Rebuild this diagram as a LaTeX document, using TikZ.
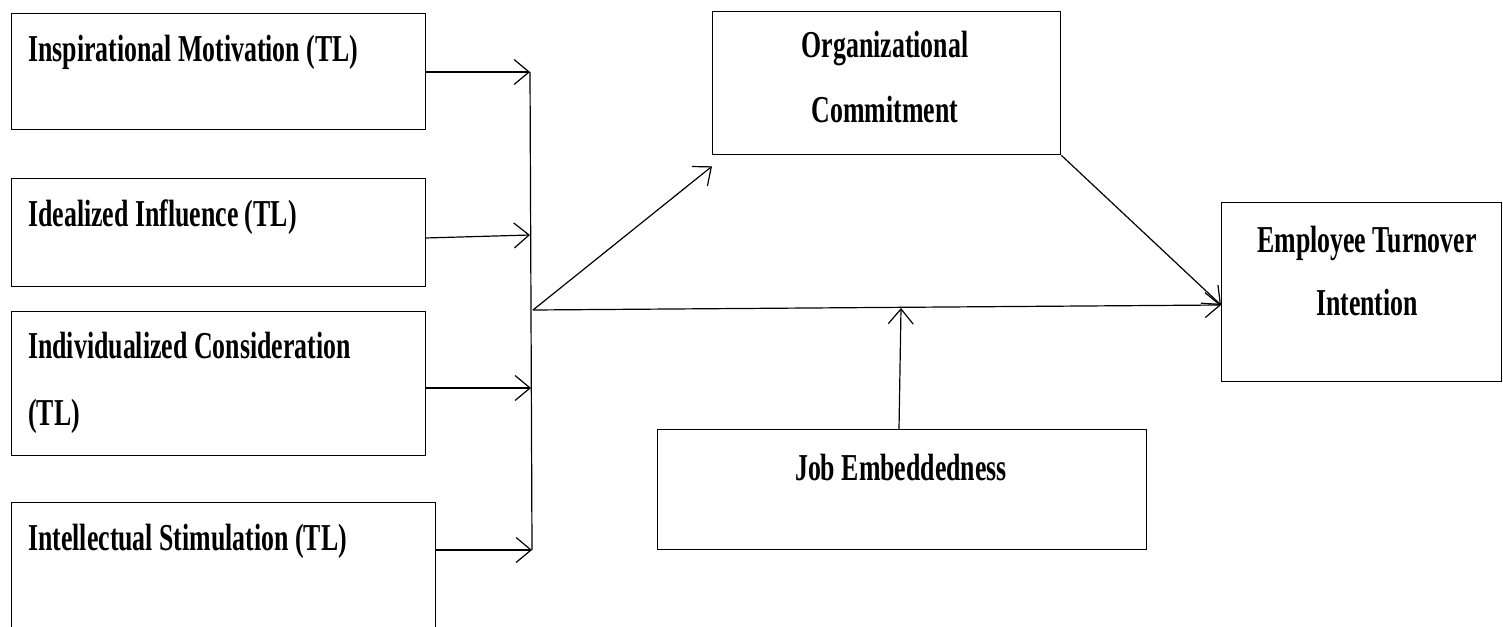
\documentclass[tikz,border=0pt]{standalone}
\usepackage{fontspec}
\setmainfont{Liberation Serif}[FakeStretch=0.68]
\usetikzlibrary{arrows.meta}
\begin{document}
\begin{tikzpicture}[x=1pt,y=-1pt,
  box/.style={draw,line width=1.3pt},
  lab/.style={inner sep=0pt,font=\fontsize{38}{40}\selectfont\bfseries},
  conn/.style={line width=1.2pt,-{Straight Barb[length=15pt,width=25pt,line width=1.2pt]}},
  plain/.style={line width=1.2pt}]
\clip (0,0) rectangle (1503,626);
\fill[white] (0,0) rectangle (1503,626);
% boxes
\node[box,minimum width=414pt,minimum height=116pt,anchor=north west] (b1) at (11,13) {};
\node[box,minimum width=414pt,minimum height=108pt,anchor=north west] (b2) at (11,178) {};
\node[box,minimum width=414pt,minimum height=144pt,anchor=north west] (b3) at (11,311) {};
\node[box,minimum width=424pt,minimum height=160pt,anchor=north west] (b4) at (11,502) {};
\node[box,minimum width=348pt,minimum height=143pt,anchor=north west] (oc) at (712,11) {};
\node[box,minimum width=280pt,minimum height=179pt,anchor=north west] (eti) at (1221,202) {};
\node[box,minimum width=489pt,minimum height=120pt,anchor=north west] (je) at (657,429) {};
% labels
\node[lab,anchor=base west] (t1) at (28,62) {Inspirational Motivation (TL)};
\node[lab,anchor=base west] (t2) at (28,226) {Idealized Influence (TL)};
\node[lab,anchor=base west] (t3a) at (28,358) {Individualized Consideration};
\node[lab,anchor=base west] (t3b) at (28,425) {(TL)};
\node[lab,anchor=base west] (t4) at (28,550) {Intellectual Stimulation (TL)};
\node[lab,anchor=base] (toc1) at (885,58) {Organizational};
\node[lab,anchor=base] (toc2) at (885,122) {Commitment};
\node[lab,anchor=base] (teti1) at (1367,252) {Employee Turnover};
\node[lab,anchor=base] (teti2) at (1367,315) {Intention};
\node[lab,anchor=base] (tje) at (901,480) {Job Embeddedness};
% bus
\coordinate (bt) at (530,72);
\coordinate (bb) at (532,550);
\coordinate (s) at (533,310);
\coordinate (m) at (901,308);
\draw[plain] (bt) -- (bb);
\draw[conn] (b1.east |- bt) -- (bt);
\draw[conn] (425,238) -- (530,235);
\draw[conn] (425,388) -- (531,388);
\draw[conn] (b4.east |- bb) -- (bb);
% right part
\draw[conn] (s) -- ([yshift=-11pt]oc.south west);
\draw[conn] (s) -- (eti.west |- 0,305);
\draw[conn] (oc.south east) -- (eti.west |- 0,305);
\draw[conn] (je.north -| 899,0) -- (m);
\end{tikzpicture}
\end{document}
